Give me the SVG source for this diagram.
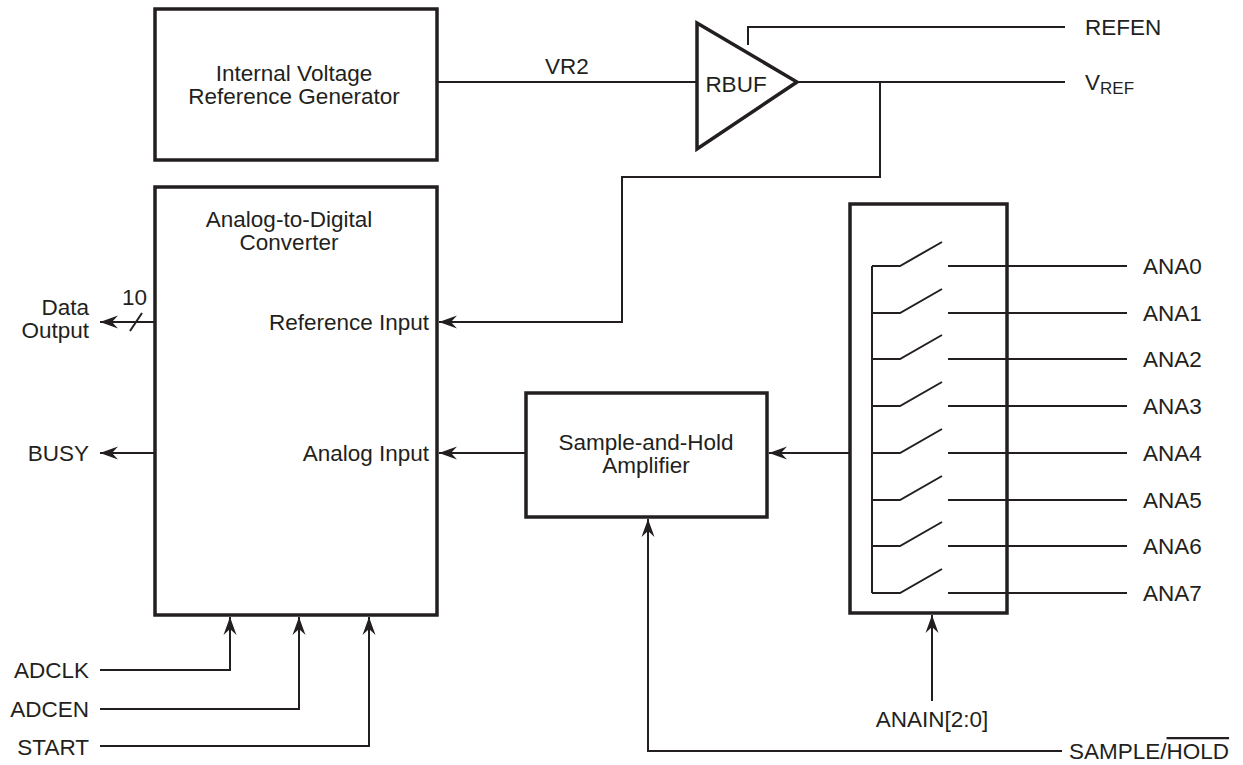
<svg xmlns="http://www.w3.org/2000/svg" width="1243" height="765" viewBox="0 0 1243 765">
<style>
.box{fill:#fff;stroke:#231f20;stroke-width:3.5}
.ln{fill:none;stroke:#231f20;stroke-width:2}
.arr{fill:none;stroke:#231f20;stroke-width:2;marker-end:url(#ah)}
text{font-family:"Liberation Sans",Arial,sans-serif;font-size:22.5px;fill:#231f20}
.m{text-anchor:middle}
.e{text-anchor:end}
</style>
<defs>
<marker id="ah" markerUnits="userSpaceOnUse" markerWidth="22" markerHeight="16" viewBox="-20 -8 22 16" refX="0" refY="0" orient="auto">
<path d="M0,0 L-18,-6.5 L-12,0 L-18,6.5 Z" fill="#231f20"/>
</marker>
</defs>
<rect width="1243" height="765" fill="#fff"/>

<g id="connectors">
<path class="ln" d="M437,82 H697"/>
<path class="ln" d="M748,45 V27 H1065"/>
<path class="ln" d="M797,82 H1065"/>
<path class="arr" d="M880,82 V177 H622 V322 H439"/>
<path class="arr" d="M526,453 H439"/>
<path class="arr" d="M872,453 H769"/>
<path class="arr" d="M155,322 H100"/>
<path class="ln" d="M130,331 L142,313"/>
<path class="arr" d="M155,453 H100"/>
<path class="arr" d="M100,670 H230 V617"/>
<path class="arr" d="M100,709 H299 V617"/>
<path class="arr" d="M100,746 H369 V617"/>
<path class="arr" d="M932,701 V615"/>
<path class="arr" d="M1062,751 H648 V519"/>
</g>

<g id="ivref">
<rect class="box" x="155" y="9" width="282" height="151"/>
<text class="m" x="294" y="81">Internal Voltage</text>
<text class="m" x="294" y="104">Reference Generator</text>
</g>

<g id="rbuf">
<polygon class="box" points="697,23 797,82 697,149"/>
<text class="m" x="736" y="92">RBUF</text>
</g>

<g id="adc">
<rect class="box" x="155" y="187" width="282" height="428"/>
<text class="m" x="289" y="227">Analog-to-Digital</text>
<text class="m" x="289" y="250">Converter</text>
<text class="e" x="429" y="330">Reference Input</text>
<text class="e" x="429" y="461">Analog Input</text>
</g>

<g id="sha">
<rect class="box" x="526" y="393" width="241" height="124"/>
<text class="m" x="646" y="450">Sample-and-Hold</text>
<text class="m" x="646" y="473">Amplifier</text>
</g>

<g id="mux">
<rect class="box" x="850" y="204" width="157" height="409"/>
<path class="ln" d="M872,266 V593"/>
<path class="ln" d="M872,266 H900 L942,242 M948,266 H1127"/>
<path class="ln" d="M872,313 H900 L942,289 M948,313 H1127"/>
<path class="ln" d="M872,359 H900 L942,335 M948,359 H1127"/>
<path class="ln" d="M872,406 H900 L942,382 M948,406 H1127"/>
<path class="ln" d="M872,453 H900 L942,429 M948,453 H1127"/>
<path class="ln" d="M872,500 H900 L942,476 M948,500 H1127"/>
<path class="ln" d="M872,546 H900 L942,522 M948,546 H1127"/>
<path class="ln" d="M872,593 H900 L942,569 M948,593 H1127"/>
</g>

<g id="labels">
<text x="545" y="74">VR2</text>
<text x="1085" y="35">REFEN</text>
<text x="1085" y="90">V<tspan font-size="17" dy="4">REF</tspan></text>
<text x="1143" y="274">ANA0</text>
<text x="1143" y="321">ANA1</text>
<text x="1143" y="367">ANA2</text>
<text x="1143" y="414">ANA3</text>
<text x="1143" y="461">ANA4</text>
<text x="1143" y="508">ANA5</text>
<text x="1143" y="554">ANA6</text>
<text x="1143" y="601">ANA7</text>
<text class="e" x="89" y="315">Data</text>
<text class="e" x="89" y="338">Output</text>
<text x="122" y="305">10</text>
<text class="e" x="89" y="461">BUSY</text>
<text class="e" x="89" y="678">ADCLK</text>
<text class="e" x="89" y="717">ADCEN</text>
<text class="e" x="89" y="755">START</text>
<text class="m" x="932" y="727">ANAIN[2:0]</text>
<text x="1069" y="759">SAMPLE/<tspan text-decoration="overline">HOLD</tspan></text>
</g>
</svg>
